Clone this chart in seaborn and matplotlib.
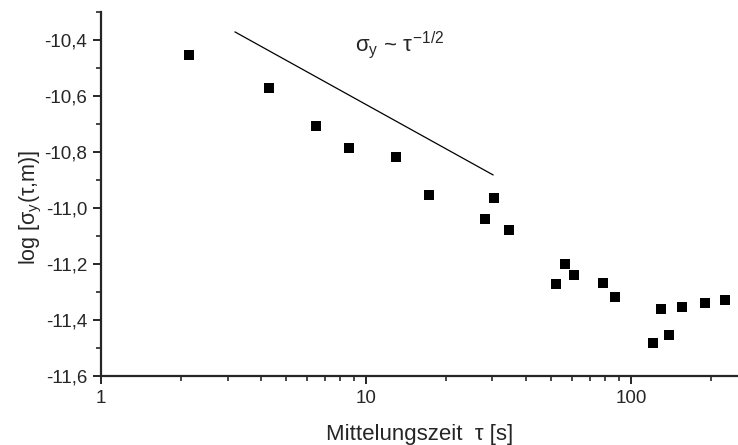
import matplotlib
matplotlib.use("Agg")
import matplotlib.pyplot as plt
import matplotlib.ticker as mticker
import seaborn as sns
import pandas as pd

tau = [2.15, 4.3, 6.48, 8.63, 13.0, 17.3, 28.1, 30.4, 34.7,
       52.1, 56.4, 60.9, 78.4, 87.0, 121.1, 129.8, 139.0, 155.7, 190.0, 226.0]
log_sigma = [-10.454, -10.571, -10.707, -10.786, -10.818, -10.954, -11.039, -10.964, -11.079,
             -11.271, -11.200, -11.239, -11.268, -11.318, -11.482, -11.361, -11.454, -11.354, -11.339, -11.329]
line_tau = [3.2, 30.2]
line_val = [-10.371, -10.882]
y_ticks = [-11.6, -11.4, -11.2, -11.0, -10.8, -10.6, -10.4]
x_ticks = [1, 10, 100]

sns.set_style("ticks")
plt.rcParams['font.family'] = ['Liberation Sans', 'DejaVu Sans']
plt.rcParams['mathtext.fontset'] = 'custom'
plt.rcParams['mathtext.rm'] = 'Liberation Sans'
plt.rcParams['mathtext.it'] = 'Liberation Sans'

df = pd.DataFrame({"tau": tau, "val": log_sigma})
ldf = pd.DataFrame({"tau": line_tau, "val": line_val})

fig = plt.figure(figsize=(7.38, 4.45), dpi=100)
ax = fig.add_axes([0.137, 0.155, 0.862, 0.818])

sns.scatterplot(data=df, x="tau", y="val", marker="s", s=55, color="black",
                edgecolor="none", ax=ax, zorder=3)
sns.lineplot(data=ldf, x="tau", y="val", color="black", linewidth=0.9, ax=ax)

ax.set_xscale("log")
ax.set_xlim(1, 252)
ax.set_ylim(-11.6, -10.3)
ax.set_xticks(x_ticks)
ax.xaxis.set_major_formatter(mticker.FuncFormatter(lambda v, p: f"{v:g}"))
ax.xaxis.set_minor_locator(mticker.LogLocator(base=10, subs=range(2, 10)))
ax.xaxis.set_minor_formatter(mticker.NullFormatter())
ax.set_yticks(y_ticks)
ax.yaxis.set_minor_locator(mticker.MultipleLocator(0.1))
ax.yaxis.set_major_formatter(mticker.FuncFormatter(lambda v, p: f"{v:.1f}".replace(".", ",")))

for s in ["top", "right"]:
    ax.spines[s].set_visible(False)
for s in ["left", "bottom"]:
    ax.spines[s].set_linewidth(1.6)
ax.tick_params(which="major", direction="out", length=6, width=1.4, labelsize=13.5, pad=4)
ax.tick_params(which="minor", direction="out", length=3.4, width=1.2)

ax.set_xlabel("Mittelungszeit  \u03c4 [s]", fontsize=16, labelpad=12)
ax.set_ylabel("log [$\\sigma_y$(\u03c4,m)]", fontsize=15.5)
ax.yaxis.set_label_coords(-0.090, 0.464)

ax.text(9.1, -10.42, r"$\sigma_y$ ~ $\tau^{-1/2}$", fontsize=16, ha="left", va="center")

fig.savefig("out.png", dpi=100)
